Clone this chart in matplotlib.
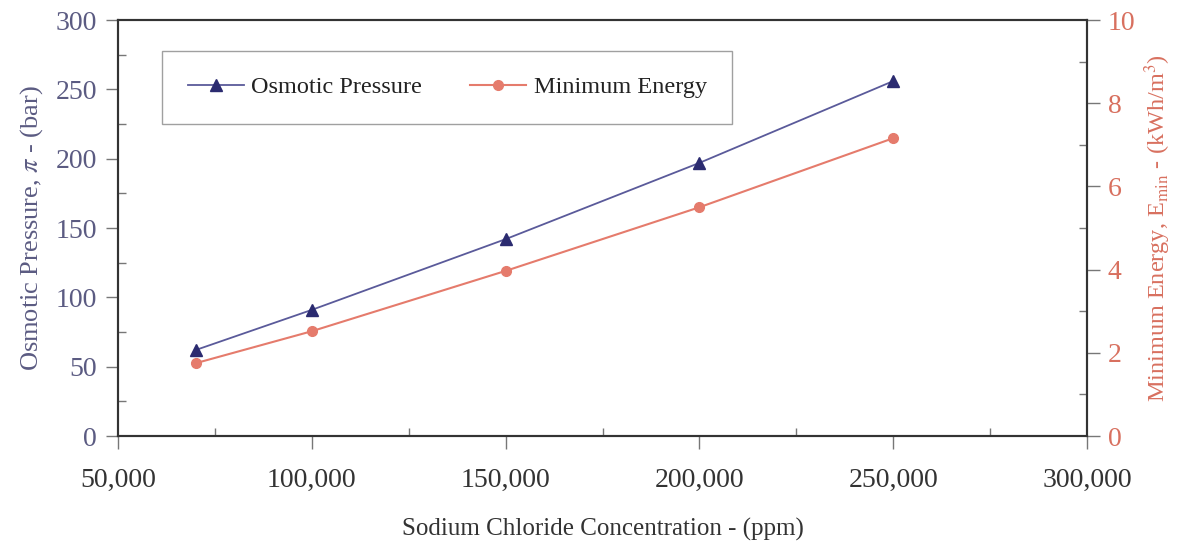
import matplotlib
matplotlib.use("Agg")
import matplotlib.pyplot as plt
from matplotlib.ticker import MultipleLocator, FuncFormatter

# data
concentration = [70000, 100000, 150000, 200000, 250000]
osmotic_pressure = [62, 91, 142, 197, 256]       # bar
minimum_energy = [1.75, 2.52, 3.97, 5.5, 7.16]    # kWh/m3

red = '#e57b6c'
left_txt = '#5b5b82'
right_txt = '#d8705f'

plt.rcParams['font.family'] = ['Liberation Serif', 'DejaVu Serif']
plt.rcParams['mathtext.fontset'] = 'stix'

fig = plt.figure(figsize=(11.77, 5.43), dpi=100)
ax = fig.add_axes([0.1003, 0.197, 0.8232, 0.766])
ax2 = ax.twinx()

l1, = ax.plot(concentration, osmotic_pressure, color='#5a5a9a', lw=1.3,
              marker='^', ms=8, mfc='#2b2b70', mec='#2b2b70', label='Osmotic Pressure')
l2, = ax2.plot(concentration, minimum_energy, color=red, lw=1.5,
               marker='o', ms=7, mfc=red, mec=red, label='Minimum Energy')

ax.set_xlim(50000, 300000)
ax.set_ylim(0, 300)
ax2.set_ylim(0, 10)

ax.xaxis.set_major_locator(MultipleLocator(50000))
ax.xaxis.set_minor_locator(MultipleLocator(25000))
ax.yaxis.set_major_locator(MultipleLocator(50))
ax.yaxis.set_minor_locator(MultipleLocator(25))
ax2.yaxis.set_major_locator(MultipleLocator(2))
ax2.yaxis.set_minor_locator(MultipleLocator(1))
ax.xaxis.set_major_formatter(FuncFormatter(lambda v, p: f'{int(v):,}'))

for a in (ax, ax2):
    for s in a.spines.values():
        s.set_color('#333333')
        s.set_linewidth(1.5)

ax.tick_params(axis='both', which='major', direction='out', length=9, width=1, color='#777777', labelsize=20)
ax.tick_params(axis='both', which='minor', direction='in', length=6, width=1, color='#777777')
ax.tick_params(axis='y', labelcolor=left_txt, pad=6)
ax.tick_params(axis='x', labelcolor='#333333', pad=14)
ax2.tick_params(axis='y', which='major', direction='out', length=9, width=1, color='#777777',
                labelsize=20, labelcolor=right_txt, pad=6)
ax2.tick_params(axis='y', which='minor', direction='in', length=6, width=1, color='#777777')

ax.set_xlabel('Sodium Chloride Concentration - (ppm)', fontsize=18, color='#333333', labelpad=18)
ax.set_ylabel(r'Osmotic Pressure, $\pi$ - (bar)', fontsize=19, color=left_txt, labelpad=8)
ax2.set_ylabel(r'Minimum Energy, E$_{\rm min}$ - (kWh/m$^3$)', fontsize=17.5, color=right_txt, labelpad=5)

leg = ax.legend(handles=[l1, l2], loc='upper left', bbox_to_anchor=(0.033, 0.955),
                ncol=2, fontsize=17.5, frameon=True, fancybox=False, borderpad=1.05,
                handlelength=2.3, columnspacing=2.0, handletextpad=0.3)
leg.get_frame().set_edgecolor('#888888')
leg.get_frame().set_linewidth(1)
for t in leg.get_texts():
    t.set_color('#222222')

fig.savefig('out.png', dpi=100)
